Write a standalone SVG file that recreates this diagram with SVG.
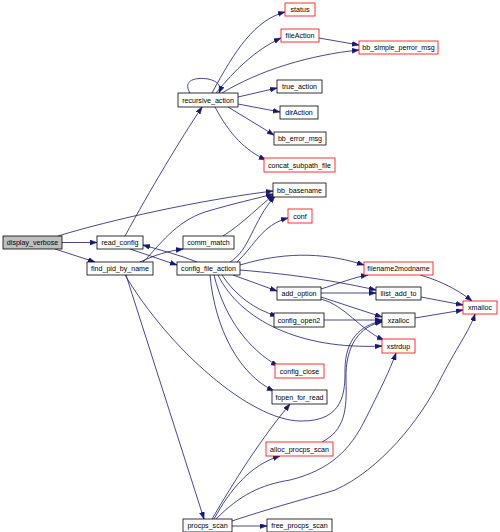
<svg xmlns="http://www.w3.org/2000/svg" width="500" height="532" viewBox="0 0 500 532">
<style>
.n rect{fill:#fff;stroke:#000;stroke-width:0.8}
.r rect{stroke:#ff0000}
.g rect{fill:#bfbfbf}
text{font-family:"Liberation Sans",Arial,sans-serif;font-size:7.1px;text-anchor:middle;fill:#000}
#edges path{fill:none;stroke:#191970;stroke-width:0.8;marker-end:url(#a)}
</style>
<defs>
<marker id="a" markerWidth="8" markerHeight="6" refX="7" refY="2.5" orient="auto" markerUnits="userSpaceOnUse">
<path d="M0,0 L7,2.5 L0,5 z" fill="#191970" stroke="#191970" stroke-width="0.5"/>
</marker>
</defs>
<rect width="500" height="532" fill="#fff"/>
<g id="edges">
<path d="M62,242.5 L97,242.5"/>
<path d="M55,249 L95,262"/>
<path d="M58,236 C110,220 200,200 273,191"/>
<path d="M125,236 C150,190 180,140 202,107"/>
<path d="M130,249 L177,265"/>
<path d="M197,262 C180,255 160,250 143,245"/>
<path d="M140,262 C155,255 168,251 183,249"/>
<path d="M143,262 C160,245 175,222 205,212 C235,203 255,199 273,194"/>
<path d="M223,236 C245,222 260,205 274,195"/>
<path d="M230,262 C250,250 252,222 275,196"/>
<path d="M237,262 C255,245 262,225 288,218"/>
<path d="M240,265 C290,250 330,254 364,265"/>
<path d="M240,270 C300,275 340,282 376,290"/>
<path d="M233,275 L277,291"/>
<path d="M222,275 C235,295 255,310 277,316"/>
<path d="M218,275 C240,320 300,350 382,346"/>
<path d="M214,275 C225,320 250,350 278,366"/>
<path d="M210,275 C215,330 240,375 274,391"/>
<path d="M321,289 C340,283 355,277 368,275"/>
<path d="M321,293 L376,293"/>
<path d="M321,297 L382,317"/>
<path d="M321,299 C345,305 360,330 384,340"/>
<path d="M324,320 L382,320"/>
<path d="M420,275 C445,282 462,293 472,301"/>
<path d="M421,297 L463,305"/>
<path d="M415,318 L463,310"/>
<path d="M126,275 L204,519"/>
<path d="M125,275 C170,350 250,420 300,421 C345,422 345,390 345,370 C345,340 360,325 382,321"/>
<path d="M322,442 C345,430 347,410 346,380 C345,345 360,326 382,322"/>
<path d="M212,519 C235,480 260,440 290,404"/>
<path d="M214,519 C230,490 250,465 280,456"/>
<path d="M216,519 C240,495 260,485 290,480 C330,470 350,450 365,420 C380,390 390,370 396,353"/>
<path d="M232,521 C280,505 320,495 335,490 C380,470 420,420 440,380 C455,350 470,330 475,314"/>
<path d="M232,526 L267,526"/>
<path d="M190,93 C182,80 196,77 208,79 C218,81 222,86 219,93"/>
<path d="M212,93 C235,50 255,20 285,12"/>
<path d="M216,93 C235,70 255,50 281,38"/>
<path d="M222,93 C260,70 310,55 359,50"/>
<path d="M319,38 L359,45"/>
<path d="M238,97 L277,88"/>
<path d="M238,104 L280,112"/>
<path d="M228,107 L274,135"/>
<path d="M215,107 C230,135 245,150 266,160"/>
</g>
<g id="status" class="n r"><rect x="285" y="3" width="30" height="13"/><text x="300" y="12">status</text></g>
<g id="fileAction" class="n r"><rect x="281" y="29" width="38" height="13"/><text x="300" y="38">fileAction</text></g>
<g id="bb_simple_perror_msg" class="n r"><rect x="359" y="41" width="79" height="13"/><text x="398.5" y="50">bb_simple_perror_msg</text></g>
<g id="recursive_action" class="n"><rect x="178" y="93" width="60" height="14"/><text x="208" y="102.5">recursive_action</text></g>
<g id="true_action" class="n"><rect x="277" y="80" width="45" height="13"/><text x="299.5" y="89">true_action</text></g>
<g id="dirAction" class="n"><rect x="280" y="106" width="38" height="13"/><text x="299" y="115">dirAction</text></g>
<g id="bb_error_msg" class="n"><rect x="274" y="132" width="52" height="13"/><text x="300" y="141">bb_error_msg</text></g>
<g id="concat_subpath_file" class="n r"><rect x="264" y="158" width="71" height="14"/><text x="299.5" y="167.5">concat_subpath_file</text></g>
<g id="bb_basename" class="n"><rect x="273" y="183" width="53" height="14"/><text x="299.5" y="192.5">bb_basename</text></g>
<g id="conf" class="n r"><rect x="288" y="209" width="24" height="14"/><text x="300" y="218.5">conf</text></g>
<g id="comm_match" class="n"><rect x="183" y="236" width="51" height="13"/><text x="208.5" y="245">comm_match</text></g>
<g id="config_file_action" class="n"><rect x="177" y="262" width="63" height="13"/><text x="208.5" y="271">config_file_action</text></g>
<g id="display_verbose" class="n g"><rect x="3" y="236" width="59" height="13"/><text x="32.5" y="245">display_verbose</text></g>
<g id="read_config" class="n"><rect x="97" y="236" width="46" height="13"/><text x="120" y="245">read_config</text></g>
<g id="find_pid_by_name" class="n"><rect x="87" y="262" width="66" height="13"/><text x="120" y="271">find_pid_by_name</text></g>
<g id="filename2modname" class="n r"><rect x="364" y="262" width="69" height="13"/><text x="398.5" y="271">filename2modname</text></g>
<g id="add_option" class="n"><rect x="277" y="287" width="44" height="13"/><text x="299" y="296">add_option</text></g>
<g id="llist_add_to" class="n"><rect x="376" y="287" width="45" height="13"/><text x="398.5" y="296">llist_add_to</text></g>
<g id="xmalloc" class="n r"><rect x="463" y="301" width="34" height="13"/><text x="480" y="310">xmalloc</text></g>
<g id="config_open2" class="n"><rect x="274" y="313" width="50" height="14"/><text x="299" y="322.5">config_open2</text></g>
<g id="xzalloc" class="n"><rect x="382" y="313" width="33" height="14"/><text x="398.5" y="322.5">xzalloc</text></g>
<g id="xstrdup" class="n r"><rect x="382" y="339" width="33" height="14"/><text x="398.5" y="348.5">xstrdup</text></g>
<g id="config_close" class="n r"><rect x="275" y="364" width="49" height="14"/><text x="299.5" y="373.5">config_close</text></g>
<g id="fopen_for_read" class="n"><rect x="272" y="390" width="55" height="14"/><text x="299.5" y="399.5">fopen_for_read</text></g>
<g id="alloc_procps_scan" class="n r"><rect x="266" y="442" width="67" height="14"/><text x="299.5" y="451.5">alloc_procps_scan</text></g>
<g id="procps_scan" class="n"><rect x="183" y="519" width="49" height="13"/><text x="207.5" y="528">procps_scan</text></g>
<g id="free_procps_scan" class="n"><rect x="267" y="519" width="65" height="13"/><text x="299.5" y="528">free_procps_scan</text></g>
</svg>
